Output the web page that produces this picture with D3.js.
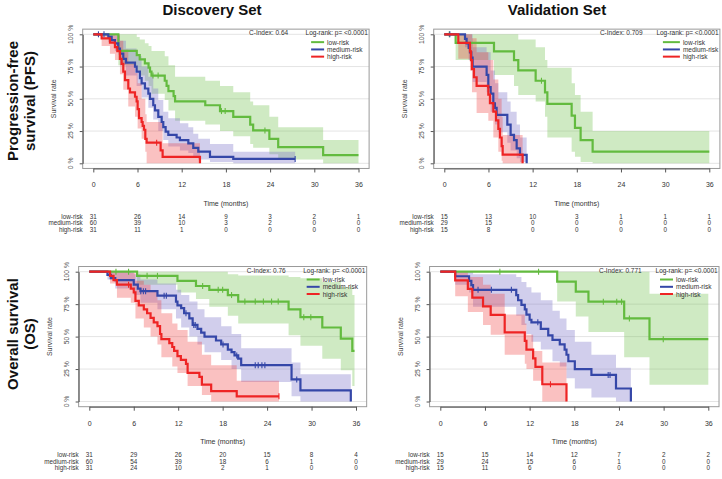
<!DOCTYPE html>
<html><head><meta charset="utf-8">
<script src="https://cdn.jsdelivr.net/npm/d3@7"></script>
<style>body{margin:0;background:#fff}svg{display:block;font-family:"Liberation Sans",Arial,sans-serif}</style>
</head><body><svg id="c" width="722" height="479"></svg>
<script>
// ---------- labels & ticks ----------
const timeTicks = [0, 6, 12, 18, 24, 30, 36];
const survTicks = [0, 0.25, 0.5, 0.75, 1];
const survTickLabels = ["0 %", "25 %", "50 %", "75 %", "100 %"];
const groups = ["low-risk", "medium-risk", "high-risk"];
const colTitles = ["Discovery Set", "Validation Set"];
const rowTitles = [["Progression-free", "survival (PFS)"], ["Overall survival", "(OS)"]];
const cIndexValues = ["0.64", "0.709", "0.76", "0.771"];
const logRankText = "Log-rank: p= <0.0001";

// ---------- numbers at risk ----------
const riskPfsDisc = [[31,26,14,9,3,2,1],[60,39,10,3,2,0,0],[31,11,1,0,0,0,0]];
const riskPfsVal  = [[15,13,10,3,1,1,1],[29,15,0,0,0,0,0],[15,8,0,0,0,0,0]];
const riskOsDisc  = [[31,29,26,20,15,8,4],[60,54,39,18,6,1,0],[31,24,10,2,1,0,0]];
const riskOsVal   = [[15,15,14,12,7,2,2],[29,24,15,6,1,0,0],[15,11,6,0,0,0,0]];

// ---------- PFS, discovery ----------
const pfsDiscLow = [[0,1],[3.4,0.871],[5.9,0.839],[6.3,0.806],[7.0,0.774],[7.5,0.742],[7.7,0.71],[7.9,0.68],[9.7,0.64],[9.95,0.60],[10.2,0.56],[10.9,0.52],[11.1,0.48],[15.2,0.45],[17.2,0.405],[19.0,0.36],[21.3,0.30],[21.7,0.255],[23.9,0.19],[25.1,0.125],[31.2,0.063],[36,0.063]];
const pfsDiscLowCens = [8.1, 8.8, 17.4, 17.9, 23.3];
const pfsDiscLowCI = [[0,1,1],[3.4,0.76,1],[5.9,0.72,0.98],[6.3,0.68,0.96],[7.0,0.64,0.93],[7.5,0.60,0.91],[7.9,0.54,0.87],[9.7,0.49,0.83],[10.2,0.41,0.76],[11.1,0.33,0.67],[15.2,0.30,0.64],[17.2,0.25,0.60],[19.0,0.21,0.55],[21.3,0.15,0.48],[21.7,0.12,0.45],[23.9,0.07,0.36],[25.1,0.03,0.28],[31.2,0,0.18],[36,0,0.18]];

const pfsDiscMed = [[0,1],[2.04,0.98],[2.49,0.955],[2.94,0.93],[3.39,0.89],[3.62,0.85],[4.07,0.81],[4.43,0.78],[5.66,0.75],[5.88,0.71],[6.33,0.66],[6.56,0.62],[7.01,0.58],[7.47,0.54],[7.69,0.50],[8.14,0.45],[8.37,0.41],[8.82,0.36],[9.28,0.32],[9.5,0.28],[9.82,0.245],[10.18,0.22],[11.31,0.20],[11.76,0.18],[12.9,0.155],[13.57,0.12],[14.25,0.09],[15.84,0.05],[19.0,0.034],[27.4,0.034]];
const pfsDiscMedCens = [0.7, 1.45, 27.4];
const pfsDiscMedCI = [[0,1,1],[2.04,0.94,1],[2.94,0.87,0.99],[3.62,0.76,0.95],[4.43,0.68,0.89],[5.88,0.60,0.83],[6.56,0.51,0.75],[7.47,0.43,0.67],[8.14,0.34,0.58],[8.82,0.25,0.49],[9.5,0.18,0.40],[10.18,0.13,0.35],[11.76,0.10,0.31],[12.9,0.08,0.28],[13.57,0.05,0.23],[14.25,0.03,0.19],[15.84,0.01,0.15],[19.0,0,0.09],[27.4,0,0.09]];

const pfsDiscHigh = [[0,1],[1.13,0.968],[2.26,0.935],[2.94,0.90],[3.26,0.87],[3.62,0.81],[3.85,0.77],[4.07,0.71],[4.3,0.645],[4.75,0.58],[4.98,0.55],[5.66,0.516],[5.88,0.48],[6.02,0.42],[6.2,0.35],[6.56,0.32],[6.7,0.29],[6.88,0.26],[7.06,0.19],[7.24,0.16],[9.14,0.10],[9.41,0.05],[14.48,0]];
const pfsDiscHighCens = [8.6];
const pfsDiscHighCI = [[0,1,1],[1.13,0.91,1],[2.26,0.85,1],[2.94,0.80,1],[3.62,0.69,0.95],[4.07,0.57,0.88],[4.75,0.44,0.77],[5.66,0.36,0.70],[6.02,0.27,0.62],[6.56,0.19,0.50],[7.06,0.09,0.38],[7.24,0,0.32],[9.41,0,0.155],[14.48,0,0]];

// ---------- PFS, validation ----------
const pfsValLow = [[0,1],[1.54,0.933],[6.75,0.867],[9.47,0.80],[10.05,0.72],[12.41,0.64],[13.68,0.55],[14.0,0.46],[17.3,0.37],[17.75,0.275],[18.52,0.18],[20.15,0.09],[36,0.09]];
const pfsValLowCens = [0.68, 13.2];
const pfsValLowCI = [[0,1,1],[1.54,0.80,1],[6.75,0.685,1],[9.47,0.60,1],[10.05,0.53,0.96],[12.41,0.48,0.90],[13.68,0.36,0.80],[14.0,0.20,0.74],[17.3,0.09,0.62],[17.75,0.05,0.53],[18.52,0.01,0.40],[20.15,0,0.25],[36,0,0.25]];

const pfsValMed = [[0,1],[2.81,0.965],[3.03,0.93],[3.31,0.895],[3.49,0.86],[3.67,0.82],[3.85,0.75],[5.75,0.685],[5.98,0.59],[6.3,0.54],[6.66,0.465],[6.88,0.43],[7.11,0.375],[8.56,0.30],[9.01,0.22],[9.47,0.18],[9.83,0.115],[10.28,0.065],[11.19,0]];
const pfsValMedCens = [0.75];
const pfsValMedCI = [[0,1,1],[2.81,0.90,1],[3.31,0.80,1],[3.85,0.63,0.90],[5.75,0.55,0.86],[6.3,0.40,0.72],[6.88,0.30,0.62],[7.34,0.24,0.55],[8.56,0.16,0.48],[9.01,0.10,0.40],[9.83,0.04,0.30],[10.28,0.01,0.20],[11.19,0,0]];

const pfsValHigh = [[0,1],[1.9,0.933],[3.49,0.867],[3.62,0.80],[3.76,0.73],[4.03,0.667],[4.39,0.60],[5.98,0.533],[6.2,0.467],[6.66,0.40],[7.02,0.333],[7.34,0.267],[7.56,0.20],[7.79,0.133],[7.93,0.067],[10.64,0]];
const pfsValHighCens = [];
const pfsValHighCI = [[0,1,1],[1.9,0.81,1],[3.49,0.72,1],[3.76,0.55,0.97],[4.39,0.39,0.86],[5.98,0.33,0.80],[6.66,0.20,0.65],[7.34,0.09,0.50],[7.79,0.02,0.36],[7.93,0,0.22],[10.64,0,0]];

// ---------- OS, discovery ----------
const osDiscLow = [[0,1],[6.45,0.968],[11.9,0.93],[14.4,0.89],[16.2,0.86],[18.7,0.82],[20.1,0.77],[26.9,0.71],[28.5,0.65],[31.45,0.57],[33.95,0.485],[35.5,0.39],[35.8,0.39]];
const osDiscLowCens = [3.6,5.3,7.8,9.2,15.3,17.4,18.0,19.2,21.0,22.4,23.5,24.6,25.5,28.95,29.9];
const osDiscLowCI = [[0,1,1],[6.45,0.90,1],[11.9,0.84,1],[14.4,0.79,1],[16.2,0.73,1],[18.7,0.66,0.98],[20.1,0.60,0.97],[26.9,0.51,0.96],[28.5,0.43,0.95],[31.45,0.33,0.92],[33.95,0.24,0.88],[35.5,0.12,0.82],[35.8,0.12,0.82]];

const osDiscMed = [[0,1],[2.45,0.975],[2.9,0.95],[3.5,0.935],[6.0,0.90],[6.55,0.87],[6.9,0.85],[9.2,0.815],[11.7,0.77],[11.9,0.74],[12.4,0.72],[12.8,0.68],[13.5,0.64],[13.95,0.59],[14.6,0.56],[15.1,0.53],[15.55,0.50],[17.1,0.47],[17.8,0.44],[18.7,0.40],[19.2,0.38],[19.6,0.355],[20.1,0.33],[20.5,0.28],[27.3,0.17],[28.5,0.085],[35.3,0]];
const osDiscMedCens = [6.95,7.3,7.6,10.1,10.4,13.05,14.1,14.3,18.05,19.9,22.4,22.8,23.3,23.7,28.0];
const osDiscMedCI = [[0,1,1],[2.45,0.94,1],[3.5,0.87,1],[6.0,0.82,0.98],[6.9,0.76,0.94],[9.2,0.71,0.91],[11.7,0.64,0.86],[12.4,0.57,0.82],[13.5,0.50,0.77],[14.6,0.44,0.71],[15.55,0.38,0.65],[17.8,0.32,0.58],[19.2,0.25,0.52],[20.5,0.15,0.41],[27.3,0.04,0.30],[28.5,0,0.21],[35.3,0,0.21]];

const osDiscHigh = [[0,1],[2.8,0.968],[3.27,0.935],[3.73,0.90],[5.6,0.87],[6.0,0.84],[6.23,0.775],[6.68,0.74],[7.36,0.71],[7.8,0.68],[8.27,0.645],[8.7,0.61],[9.2,0.58],[9.55,0.52],[9.73,0.48],[10.8,0.45],[11.2,0.42],[11.45,0.39],[11.9,0.35],[12.36,0.32],[13.05,0.29],[13.27,0.22],[14.86,0.19],[15.2,0.13],[16.45,0.08],[19.9,0.04],[25.6,0.04]];
const osDiscHighCens = [5.3, 25.6];
const osDiscHighCI = [[0,1,1],[2.8,0.91,1],[3.73,0.80,1],[5.6,0.76,0.99],[6.23,0.64,0.93],[7.36,0.57,0.90],[8.27,0.50,0.85],[9.2,0.44,0.78],[9.73,0.34,0.68],[11.2,0.27,0.60],[11.9,0.22,0.55],[13.27,0.12,0.46],[15.2,0.05,0.36],[16.45,0,0.28],[19.9,0,0.16],[25.6,0,0.16]];

// ---------- OS, validation ----------
const osValLow = [[0,1],[15.7,0.923],[18.2,0.846],[19.9,0.769],[24.7,0.64],[28.1,0.48],[36,0.48]];
const osValLowCens = [8.0,13.2,21.9,23.7,24.35,25.4,29.95];
const osValLowCI = [[0,1,1],[15.7,0.77,1],[18.2,0.655,1],[19.9,0.535,1],[24.7,0.34,1],[28.1,0.13,0.83],[36,0.13,0.83]];

const osValMed = [[0,1],[2.0,0.965],[3.86,0.93],[4.17,0.896],[4.4,0.86],[10.2,0.82],[10.45,0.78],[10.9,0.745],[11.35,0.71],[11.57,0.67],[12.0,0.63],[12.24,0.61],[13.5,0.56],[14.5,0.51],[15.07,0.475],[16.05,0.44],[16.7,0.40],[16.95,0.36],[17.2,0.31],[18.07,0.25],[20.3,0.205],[23.6,0.10],[25.6,0]];
const osValMedCens = [5.07,6.86,9.55,13.1,22.55,22.8];
const osValMedCI = [[0,1,1],[2.0,0.90,1],[3.86,0.84,1],[4.4,0.73,0.98],[10.2,0.66,0.96],[10.9,0.59,0.92],[11.57,0.52,0.88],[12.24,0.46,0.84],[13.5,0.40,0.78],[15.07,0.31,0.70],[16.05,0.27,0.64],[16.95,0.18,0.55],[18.07,0.10,0.46],[20.3,0.03,0.36],[23.6,0,0.26],[25.6,0,0.26]];

const osValHigh = [[0,1],[2.0,0.933],[3.7,0.867],[4.3,0.80],[5.74,0.733],[6.77,0.667],[8.65,0.533],[11.35,0.467],[11.57,0.40],[12.47,0.333],[12.78,0.267],[13.7,0.133],[16.95,0]];
const osValHighCens = [14.8];
const osValHighCI = [[0,1,1],[2.0,0.81,1],[3.7,0.69,0.96],[5.74,0.59,0.90],[6.77,0.515,0.83],[8.65,0.36,0.67],[11.35,0.29,0.60],[11.57,0.25,0.515],[12.47,0.16,0.39],[13.7,0,0.30],[16.95,0,0.30]];

// ---------- styling ----------
const lineColors = ["#63bb3f", "#3547a8", "#ee2424"];
const bandColors = ["#6cc04a", "#7b74c9", "#ee3333"];
const bandOpacity = [0.33, 0.35, 0.3];

const panels = [
  {x0:93.3, x36:358.5, y1:34.3, y0:163.3, risk:riskPfsDisc, cidx:cIndexValues[0], legX:[-58,-45,-42],
   curves:[[pfsDiscLow,pfsDiscLowCI,pfsDiscLowCens],[pfsDiscMed,pfsDiscMedCI,pfsDiscMedCens],[pfsDiscHigh,pfsDiscHighCI,pfsDiscHighCens]]},
  {x0:444.3, x36:709.3, y1:34.3, y0:163.3, risk:riskPfsVal, cidx:cIndexValues[1], legX:[-57,-40,-37],
   curves:[[pfsValLow,pfsValLowCI,pfsValLowCens],[pfsValMed,pfsValMedCI,pfsValMedCens],[pfsValHigh,pfsValHighCI,pfsValHighCens]]},
  {x0:89.3, x36:356, y1:271.7, y0:401.5, risk:riskOsDisc, cidx:cIndexValues[2], legX:[-60,-47,-44],
   curves:[[osDiscLow,osDiscLowCI,osDiscLowCens],[osDiscMed,osDiscMedCI,osDiscMedCens],[osDiscHigh,osDiscHighCI,osDiscHighCens]]},
  {x0:440.3, x36:708.3, y1:271.7, y0:401.5, risk:riskOsVal, cidx:cIndexValues[3], legX:[-59,-46,-43],
   curves:[[osValLow,osValLowCI,osValLowCens],[osValMed,osValMedCI,osValMedCens],[osValHigh,osValHighCI,osValHighCens]]}
];

const svg = d3.select("#c");
svg.append("rect").attr("width",722).attr("height",479).attr("fill","#fff");

function sAt(curve, t){ let s = 1; for (const d of curve) if (d[0] <= t) s = d[1]; return s; }

panels.forEach(p => {
  const x = d3.scaleLinear().domain([0,36]).range([p.x0, p.x36]);
  const y = d3.scaleLinear().domain([0,1]).range([p.y0, p.y1]);
  const L = x(-1.44), R = x(37.44), T = y(1.04), B = y(-0.04);
  const g = svg.append("g");

  // grid
  g.selectAll(".grid").data(survTicks).join("line")
    .attr("x1", L).attr("x2", R).attr("y1", d=>y(d)).attr("y2", d=>y(d))
    .attr("stroke", "#e4e4e4").attr("stroke-width", 1);

  // bands
  const area = d3.area().curve(d3.curveStepAfter).x(d=>x(d[0])).y0(d=>y(d[1])).y1(d=>y(d[2]));
  p.curves.forEach((c,i) => {
    g.append("path").attr("d", area(c[1])).attr("fill", bandColors[i]).attr("fill-opacity", bandOpacity[i]).attr("stroke","none");
  });

  // lines
  const line = d3.line().curve(d3.curveStepAfter).x(d=>x(d[0])).y(d=>y(d[1]));
  p.curves.forEach((c,i) => {
    g.append("path").attr("d", line(c[0])).attr("fill","none").attr("stroke", lineColors[i]).attr("stroke-width", 2.2);
    g.selectAll(null).data(c[2]).join("line")
      .attr("x1", d=>x(d)).attr("x2", d=>x(d))
      .attr("y1", d=>y(sAt(c[0], d))-3).attr("y2", d=>y(sAt(c[0], d))+3)
      .attr("stroke", lineColors[i]).attr("stroke-width", 1.1);
  });

  // box
  g.append("rect").attr("x", L).attr("y", T).attr("width", R-L).attr("height", B-T)
    .attr("fill","none").attr("stroke","#9a9a9a").attr("stroke-width",1);

  // y axis
  const ya = g.append("g").attr("transform", `translate(${L},0)`)
    .call(d3.axisLeft(y).tickValues(survTicks).tickSize(3).tickSizeOuter(0).tickFormat(""));
  ya.selectAll("path,line").attr("stroke","#555");
  g.selectAll(null).data(survTicks).join("text")
    .attr("transform", d=>`translate(${L-12.5},${y(d)}) rotate(-90)`)
    .attr("text-anchor","middle").attr("dominant-baseline","central")
    .attr("font-size", 6.8).attr("fill","#444").text((d,i)=>survTickLabels[i]);
  g.append("text").attr("transform", `translate(${L-29},${(p.y0+p.y1)/2}) rotate(-90)`)
    .attr("text-anchor","middle").attr("dominant-baseline","central")
    .attr("font-size", 7).attr("fill","#444").text("Survival rate");

  // x axis
  const xa = g.append("g").attr("transform", `translate(0,${B})`)
    .call(d3.axisBottom(x).tickValues(timeTicks).tickSize(4).tickSizeOuter(0).tickPadding(10));
  xa.selectAll("path,line").attr("stroke","#555");
  xa.selectAll("text").attr("font-size", 7).attr("fill","#333").attr("font-family","Liberation Sans, Arial, sans-serif");
  g.append("text").attr("x", (p.x0+p.x36)/2).attr("y", B+35).attr("text-anchor","middle")
    .attr("dominant-baseline","central").attr("font-size",7).attr("fill","#333").text("Time (months)");

  // C-index / log-rank
  g.append("text").attr("x", R-120).attr("y", T+3.5).attr("dominant-baseline","central")
    .attr("font-size",6.5).attr("fill","#333").text("C-Index: " + p.cidx);
  g.append("text").attr("x", R-63.5).attr("y", T+3.5).attr("dominant-baseline","central")
    .attr("font-size",6.5).attr("fill","#333").text(logRankText);

  // legend
  const legY = [13, 20.3, 27.5];
  groups.forEach((name,i) => {
    g.append("line").attr("x1", R+p.legX[0]).attr("x2", R+p.legX[1]).attr("y1", T+legY[i]).attr("y2", T+legY[i])
      .attr("stroke", lineColors[i]).attr("stroke-width", 2);
    g.append("text").attr("x", R+p.legX[2]).attr("y", T+legY[i]).attr("dominant-baseline","central")
      .attr("font-size",6.5).attr("fill","#333").text(name);
  });

  // risk table
  const rowY = [48, 54.5, 61];
  groups.forEach((name,i) => {
    g.append("text").attr("x", L).attr("y", B+rowY[i]).attr("text-anchor","end").attr("dominant-baseline","central")
      .attr("font-size",6.3).attr("fill","#333").text(name);
    g.selectAll(null).data(p.risk[i]).join("text")
      .attr("x", (d,j)=>x(timeTicks[j])).attr("y", B+rowY[i]).attr("text-anchor","middle").attr("dominant-baseline","central")
      .attr("font-size",6.3).attr("fill","#333").text(d=>d);
  });
});

// column titles
[212, 557].forEach((cx,i) => {
  svg.append("text").attr("x", cx).attr("y", 15).attr("text-anchor","middle")
    .attr("font-size", 15).attr("font-weight","bold").attr("fill","#111").text(colTitles[i]);
});
// row titles
[[101, [12, 29.5]], [334, [12, 29.5]]].forEach((r,i) => {
  rowTitles[i].forEach((t,j) => {
    svg.append("text").attr("transform", `translate(${r[1][j]},${r[0]}) rotate(-90)`)
      .attr("text-anchor","middle").attr("dominant-baseline","central")
      .attr("font-size", 15).attr("font-weight","bold").attr("fill","#111").text(t);
  });
});
</script></body></html>
